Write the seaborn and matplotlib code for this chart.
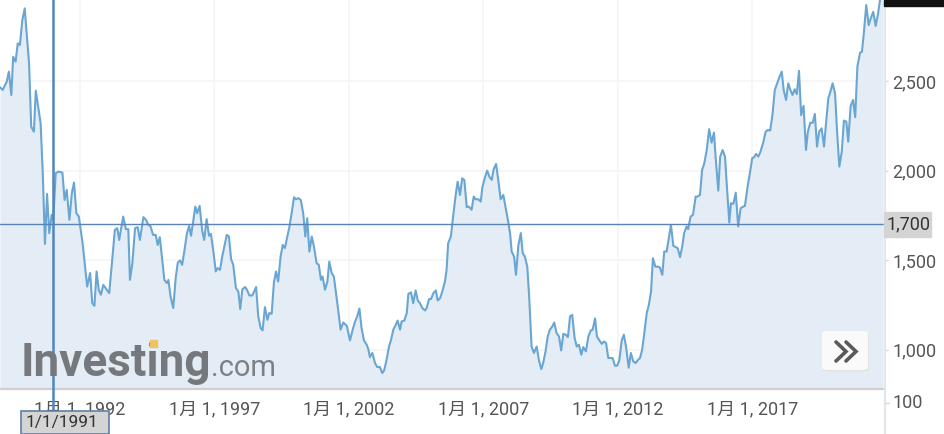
import matplotlib
matplotlib.use("Agg")
import matplotlib.pyplot as plt
from matplotlib.patches import Rectangle, FancyBboxPatch
from matplotlib.lines import Line2D
import numpy as np
import pandas as pd
import seaborn as sns

sns.set_style("white")
plt.rcParams['font.family'] = ['Roboto', 'Noto Sans CJK JP', 'DejaVu Sans']

#-- data (decimal year, index level) --
dates = [
    1989.03, 1989.13, 1989.28, 1989.36, 1989.45, 1989.52, 1989.61, 1989.69, 1989.77, 1989.86,
    1989.95, 1990.02, 1990.11, 1990.19, 1990.29, 1990.36, 1990.45, 1990.54, 1990.62, 1990.70,
    1990.78, 1990.86, 1990.95, 1991.01, 1991.10, 1991.20, 1991.35, 1991.43, 1991.51, 1991.61,
    1991.70, 1991.78, 1991.87, 1991.96, 1992.10, 1992.27, 1992.38, 1992.46, 1992.54, 1992.62,
    1992.70, 1992.78, 1992.87, 1993.09, 1993.30, 1993.39, 1993.46, 1993.61, 1993.71, 1993.80,
    1993.86, 1993.95, 1994.05, 1994.15, 1994.23, 1994.36, 1994.46, 1994.54, 1994.62, 1994.72,
    1994.82, 1994.89, 1994.97, 1995.06, 1995.14, 1995.23, 1995.29, 1995.37, 1995.47, 1995.56,
    1995.64, 1995.72, 1995.80, 1995.88, 1995.98, 1996.06, 1996.13, 1996.22, 1996.29, 1996.36,
    1996.45, 1996.55, 1996.62, 1996.71, 1996.80, 1996.87, 1996.97, 1997.05, 1997.12, 1997.21,
    1997.29, 1997.46, 1997.54, 1997.62, 1997.70, 1997.80, 1997.89, 1997.96, 1998.04, 1998.14,
    1998.21, 1998.30, 1998.41, 1998.55, 1998.63, 1998.72, 1998.79, 1998.88, 1998.97, 1999.04,
    1999.13, 1999.21, 1999.29, 1999.37, 1999.46, 1999.54, 1999.62, 1999.71, 1999.78, 1999.87,
    1999.96, 2000.03, 2000.12, 2000.21, 2000.30, 2000.38, 2000.45, 2000.53, 2000.62, 2000.70,
    2000.80, 2000.88, 2000.96, 2001.02, 2001.11, 2001.20, 2001.27, 2001.36, 2001.44, 2001.52,
    2001.60, 2001.69, 2001.79, 2001.92, 2002.04, 2002.14, 2002.23, 2002.31, 2002.39, 2002.47,
    2002.56, 2002.66, 2002.72, 2002.78, 2002.87, 2002.97, 2003.05, 2003.15, 2003.24, 2003.31,
    2003.40, 2003.49, 2003.56, 2003.65, 2003.74, 2003.81, 2003.90, 2003.96, 2004.06, 2004.15,
    2004.21, 2004.31, 2004.39, 2004.48, 2004.56, 2004.64, 2004.73, 2004.83, 2004.89, 2004.98,
    2005.05, 2005.14, 2005.23, 2005.30, 2005.39, 2005.47, 2005.57, 2005.63, 2005.69, 2005.79,
    2005.88, 2005.97, 2006.04, 2006.13, 2006.21, 2006.29, 2006.38, 2006.46, 2006.56, 2006.64,
    2006.71, 2006.81, 2006.90, 2006.96, 2007.06, 2007.14, 2007.23, 2007.31, 2007.38, 2007.47,
    2007.55, 2007.64, 2007.74, 2007.84, 2007.92, 2007.99, 2008.05, 2008.14, 2008.21, 2008.30,
    2008.39, 2008.46, 2008.54, 2008.63, 2008.70, 2008.79, 2008.88, 2008.98, 2009.06, 2009.15,
    2009.22, 2009.31, 2009.39, 2009.47, 2009.56, 2009.63, 2009.72, 2009.81, 2009.89, 2009.97,
    2010.06, 2010.14, 2010.22, 2010.30, 2010.39, 2010.47, 2010.55, 2010.64, 2010.71, 2010.81,
    2010.90, 2010.99, 2011.06, 2011.15, 2011.22, 2011.31, 2011.40, 2011.48, 2011.56, 2011.64,
    2011.73, 2011.80, 2011.89, 2011.97, 2012.05, 2012.14, 2012.22, 2012.30, 2012.40, 2012.48,
    2012.57, 2012.66, 2012.75, 2012.82, 2012.90, 2012.98, 2013.07, 2013.15, 2013.23, 2013.30,
    2013.39, 2013.48, 2013.56, 2013.65, 2013.72, 2013.81, 2013.90, 2013.97, 2014.06, 2014.15,
    2014.22, 2014.31, 2014.39, 2014.46, 2014.55, 2014.61, 2014.70, 2014.79, 2014.89, 2014.96,
    2015.05, 2015.13, 2015.21, 2015.30, 2015.39, 2015.48, 2015.57, 2015.63, 2015.73, 2015.80,
    2015.89, 2015.98, 2016.05, 2016.14, 2016.20, 2016.29, 2016.38, 2016.47, 2016.56, 2016.66,
    2016.72, 2016.82, 2016.91, 2016.99, 2017.06, 2017.13, 2017.22, 2017.30, 2017.40, 2017.49,
    2017.58, 2017.66, 2017.75, 2017.83, 2017.92, 2018.00, 2018.09, 2018.16, 2018.25, 2018.33,
    2018.41, 2018.49, 2018.57, 2018.65, 2018.73, 2018.81, 2018.90, 2018.99, 2019.06, 2019.15,
    2019.24, 2019.32, 2019.40, 2019.48, 2019.57, 2019.66, 2019.73, 2019.82, 2019.91, 2019.98,
    2020.07, 2020.15, 2020.23, 2020.32, 2020.40, 2020.49, 2020.56, 2020.65, 2020.74, 2020.82,
    2020.90, 2021.00, 2021.07, 2021.14, 2021.23, 2021.32, 2021.40, 2021.49, 2021.58, 2021.67,
    2021.74, 2021.85,
]
prices = [
    2465, 2450, 2496, 2552, 2422, 2635, 2608, 2710, 2701, 2840,
    2905, 2766, 2599, 2245, 2217, 2446, 2357, 2264, 1985, 1591,
    1870, 1651, 1753, 1725, 1985, 1994, 1989, 1836, 1892, 1725,
    1874, 1933, 1762, 1743, 1595, 1353, 1428, 1260, 1245, 1437,
    1335, 1307, 1362, 1316, 1669, 1679, 1613, 1743, 1673, 1673,
    1390, 1483, 1679, 1684, 1613, 1740, 1725, 1697, 1691, 1641,
    1641, 1585, 1628, 1502, 1390, 1372, 1390, 1297, 1233, 1400,
    1487, 1498, 1474, 1548, 1651, 1691, 1636, 1725, 1799, 1762,
    1803, 1660, 1613, 1729, 1636, 1647, 1539, 1437, 1456, 1446,
    1520, 1641, 1632, 1506, 1474, 1344, 1325, 1227, 1338, 1350,
    1335, 1303, 1303, 1350, 1186, 1121, 1108, 1238, 1167, 1205,
    1201, 1372, 1437, 1381, 1520, 1585, 1567, 1632, 1679, 1762,
    1851, 1840, 1846, 1836, 1762, 1632, 1734, 1548, 1632, 1576,
    1483, 1474, 1390, 1409, 1335, 1381, 1492, 1428, 1409, 1316,
    1223, 1112, 1152, 1134, 1052, 1112, 1158, 1186, 1230, 1121,
    1052, 1028, 1004, 959, 982, 926, 904, 904, 870, 885,
    944, 1018, 1052, 1112, 1139, 1163, 1112, 1158, 1163, 1205,
    1312, 1320, 1260, 1331, 1275, 1260, 1233, 1219, 1233, 1283,
    1283, 1316, 1331, 1275, 1288, 1325, 1381, 1446, 1595, 1632,
    1753, 1864, 1938, 1864, 1957, 1948, 1796, 1799, 1781, 1855,
    1840, 1840, 1827, 1907, 1963, 2000, 1963, 1948, 2008, 2037,
    1948, 1840, 1864, 1781, 1715, 1651, 1548, 1520, 1418, 1585,
    1651, 1539, 1520, 1464, 1297, 1018, 982, 1018, 944, 892,
    926, 991, 1074, 1112, 1130, 1152, 1093, 1074, 996, 1089,
    1084, 1071, 1186, 1195, 1065, 1018, 1028, 972, 1015, 991,
    1074, 1108, 1112, 1175, 1074, 1052, 1033, 1046, 1037, 954,
    954, 954, 911, 911, 940, 1052, 1084, 1018, 900, 982,
    935, 926, 944, 954, 1000, 1093, 1205, 1251, 1325, 1511,
    1464, 1464, 1459, 1418, 1548, 1548, 1632, 1697, 1580, 1573,
    1567, 1517, 1576, 1651, 1688, 1673, 1743, 1753, 1855, 1855,
    1864, 2004, 2041, 2115, 2231, 2156, 2212, 2078, 1888, 2078,
    2115, 2078, 1911, 1710, 1818, 1814, 1877, 1688, 1790, 1799,
    1803, 1911, 1990, 2069, 2074, 2093, 2078, 2106, 2156, 2217,
    2227, 2223, 2320, 2450, 2487, 2521, 2552, 2450, 2394, 2487,
    2450, 2422, 2454, 2427, 2557, 2310, 2361, 2115, 2217, 2267,
    2267, 2316, 2134, 2217, 2236, 2134, 2255, 2403, 2446, 2487,
    2431, 2208, 2022, 2106, 2279, 2273, 2161, 2361, 2394, 2298,
    2580, 2658, 2663, 2766, 2924, 2812, 2850, 2886, 2807, 2877,
    2952, 3000,
]
tick_years  = [1992, 1997, 2002, 2007, 2012, 2017]
tick_labels = [f"1月 1, {y}" for y in tick_years]
ytick_vals  = [1000, 1500, 2000, 2500]
ref_level   = 1700
cursor_year = 1991.0
cursor_text = "1/1/1991"

W, H = 944, 434
def fx(x): return x / W
def fy(y): return 1 - y / H

line_col = '#6aa6d3'
fill_col = '#e4edf5'
text_col = '#555555'

df = pd.DataFrame({'year': dates, 'price': prices})

fig = plt.figure(figsize=(W / 100, H / 100), dpi=100)
ax = fig.add_axes([0, fy(389), fx(884), 389 / H])
ybot = 781
ax.set_xlim(1989.03, 2021.89)
ax.set_ylim(ybot, 2952)

ax.fill_between(df['year'], df['price'], ybot, color=fill_col, lw=0, zorder=1)
sns.lineplot(data=df, x='year', y='price', ax=ax, color=line_col, lw=1.5, zorder=3)

ax.set_xticks(tick_years)
ax.set_xticklabels(tick_labels)
ax.set_yticks(ytick_vals)
ax.set_yticklabels([f"{v:,}" for v in ytick_vals])
ax.yaxis.tick_right()
ax.grid(True, color='#f5f5f5', lw=1.2, zorder=0)
ax.set_xlabel('')
ax.set_ylabel('')
ax.tick_params(axis='x', direction='out', length=5, width=1.2, color='#d8d8d8',
               labelsize=13, labelcolor=text_col, pad=3)
ax.tick_params(axis='y', direction='out', length=3, width=1, color='#d8d8d8',
               labelsize=13, labelcolor=text_col, pad=3)
for s in ['top', 'left', 'right']:
    ax.spines[s].set_visible(False)
ax.spines['bottom'].set_color('#cfcfcf')
ax.spines['bottom'].set_linewidth(1.6)

# reference level and cursor
ax.axhline(ref_level, color='#5a82b4', lw=1.0, zorder=4)
ax.axvline(cursor_year, ymin=-0.06, ymax=1, color='#4f86bf', lw=1.8, zorder=5, clip_on=False)

# right axis line extends to bottom of figure
fig.add_artist(Line2D([fx(885), fx(885)], [0, 1], color='#e3e6ea', lw=1.6))

# stray "100" label below the axis
fig.text(fx(893), fy(403), "100", fontsize=13, color=text_col, va='center', ha='left')
fig.add_artist(Line2D([fx(885), fx(889)], [fy(403), fy(403)], color='#d8d8d8', lw=1))

# 1,700 label box
fig.add_artist(Rectangle((fx(884), fy(236.5)), fx(47), 24.5 / H, color='#d4d4d4', zorder=6))
fig.text(fx(887), fy(224.5), f"{ref_level:,}", fontsize=13, color='#333333',
         va='center', ha='left', zorder=7)

# cursor date box
fig.add_artist(Rectangle((fx(21), 0), fx(88), 23 / H, facecolor='#d4d4d4',
                         edgecolor='#5c7fa6', lw=1.2, zorder=6))
fig.text(fx(26), fy(423), cursor_text, fontsize=12.5, color='#333333',
         va='center', ha='left', zorder=7)

# black price tag peeking at top right
fig.add_artist(Rectangle((fx(884), fy(5.5)), fx(60), 5.5 / H, color='#111111', zorder=6))

# watermark
fig.text(fx(21), fy(376), "Investing", fontsize=33, fontweight='bold', color='#75797d',
         va='baseline', ha='left', zorder=6)
fig.text(fx(211), fy(376), ".com", fontsize=21, color='#7d8084',
         va='baseline', ha='left', zorder=6)
fig.add_artist(Rectangle((fx(150), fy(347)), fx(7), 7 / H, color='#f2c260', zorder=7))

# ">>" button
fig.add_artist(FancyBboxPatch((fx(823), fy(371.5)), fx(46), 39 / H,
                              boxstyle='round,pad=0,rounding_size=0.006',
                              facecolor='#e2e2e2', edgecolor='none', zorder=6))
fig.add_artist(FancyBboxPatch((fx(822), fy(370)), fx(46), 39 / H,
                              boxstyle='round,pad=0,rounding_size=0.006',
                              facecolor='#fafafa', edgecolor='none', zorder=7))
for off in (0, 10):
    fig.add_artist(Line2D([fx(836 + off), fx(846 + off), fx(836 + off)],
                          [fy(342), fy(351.5), fy(361)], color='#5a5a5a', lw=2.6,
                          solid_joinstyle='miter', zorder=8))

plt.savefig('out.png', dpi=100)
